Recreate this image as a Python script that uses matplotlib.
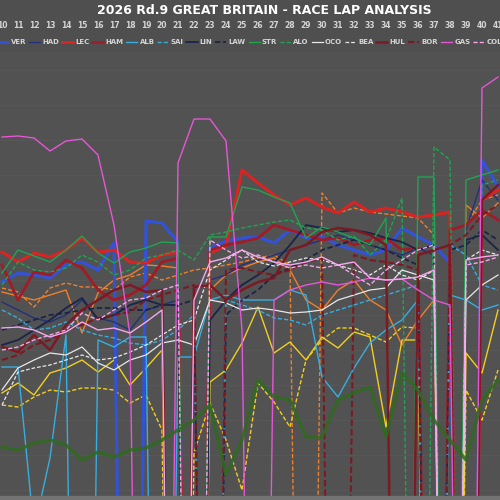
import numpy as np
import matplotlib.pyplot as plt
from matplotlib.lines import Line2D
from matplotlib.patches import Rectangle

# lap times in seconds, laps 10..41; PIT marks in/out laps (off the chart)
PIT = 115.0
laps = list(range(10, 42))

nor = [91.80, 91.88, 91.96, 91.86, 91.76, 92.62, 91.82, 91.56, 91.46, 91.26, 91.28, 91.32, PIT, 91.76, 91.46, 91.32,
       91.20, 91.12, 91.36, 91.96, 92.16, 91.76, 91.56, 91.96, 92.16, 92.86, 92.36, 91.96, PIT, 90.06, 90.32, 90.02]
pia = [91.72, 91.80, 92.10, 91.72, 91.62, 91.70, 91.70, 91.76, 91.50, 91.42, 91.56, 91.46, 91.36, 91.32, 91.26, 91.20,
       91.12, 91.06, 91.26, PIT, 89.82, 90.22, 90.12, 90.20, 90.24, 90.28, 90.32, 90.66, PIT, 90.46, 89.96, 89.86]
rus = [93.82, 93.62, 93.86, 93.42, 93.32, 93.16, 93.40, 93.16, 93.66, 93.32, 92.96, PIT, PIT, 93.60, 93.36, 92.82,
       92.10, 93.02, 92.80, 93.16, 92.70, 92.92, 92.60, 92.70, 94.50, 92.76, 92.76, PIT, PIT, 93.02, 93.42, 92.16]
ant = [94.06, 94.10, 93.90, 93.76, 93.80, 93.72, 93.72, 93.76, 94.02, 93.86, 94.56, PIT, 95.02, 94.02, 94.76, 95.76,
       93.62, 94.00, 94.50, 93.16, 92.76, 92.52, 92.52, 92.66, 92.80, 92.50, 92.52, PIT, PIT, 93.76, 94.36, 93.36]
ver = [91.60, 91.42, 91.46, 91.52, 91.26, 91.20, 91.36, 90.82, PIT, 90.38, 90.42, 90.80, PIT, 90.92, 90.78, 90.72,
       90.70, 90.82, 90.56, 90.72, 90.70, 90.86, 90.96, 91.06, 90.96, 90.52, 90.70, 90.86, 91.22, PIT, 89.16, 89.70]
had = [92.00, 92.16, 92.32, 92.40, 92.26, 91.96, 92.32, 92.40, 92.56, 92.16, 92.06, 91.96, PIT, 91.56, 91.46, 91.26,
       91.16, 91.06, 90.96, 90.86, 90.76, 90.66, 90.76, 90.86, 90.96, 91.06, 90.92, 91.06, PIT, 90.56, 89.56, 89.96]
lec = [91.00, 91.20, 91.02, 91.10, 90.96, 90.72, 91.00, 90.96, 91.20, 91.22, 91.06, 91.00, PIT, 91.02, 90.88, 89.36,
       89.62, 89.86, 90.06, 89.92, 90.10, 90.22, 90.00, 90.20, 90.12, 90.20, 90.30, 90.26, 90.20, PIT, 89.96, 89.76]
ham = [91.26, 91.96, 91.40, 91.46, 91.16, 91.32, 91.76, 91.96, 91.86, 91.66, 91.20, 91.12, PIT, 90.96, 90.86, 90.80,
       90.72, 90.46, 90.56, 90.66, 90.76, 90.72, 90.86, 90.76, 90.72, 90.96, 90.92, PIT, 90.56, 90.46, 90.16, 90.36]
alb = [93.30, 93.30, 96.56, 95.12, 92.66, PIT, 92.76, 92.90, 92.70, 92.70, PIT, 93.10, 93.10, 91.96, 91.86, 91.96,
       91.96, 91.96, 91.76, 91.86, 93.50, 93.90, 93.32, 92.82, 92.56, 92.36, 91.96, PIT, 91.86, 91.96, 92.16, 92.06]
sai = [92.16, 92.32, 92.56, 92.52, 92.40, 92.56, 92.66, 92.72, 92.82, 92.86, 92.76, 92.56, 92.26, PIT, 91.96, 92.06,
       92.16, 92.32, 92.36, 92.46, 92.26, 92.16, 92.06, 91.96, 91.86, 91.76, 91.66, PIT, 90.86, 91.06, 91.66, 91.76]
lin = [92.86, 92.76, 92.56, 92.36, 92.12, 91.92, 92.36, 92.26, 92.06, 91.96, 92.06, 92.06, PIT, 92.36, 91.96, 91.66,
       91.46, 91.22, 90.86, 90.46, 90.52, 90.60, 90.56, 90.62, 90.72, 90.80, 90.96, 90.86, PIT, 90.76, 90.66, 90.96]
law = [92.56, 92.46, 92.36, 92.26, 92.22, 92.16, 92.12, 92.12, 92.16, 92.16, 92.06, 92.06, 91.96, PIT, 92.26, 91.96,
       91.76, 91.46, 91.32, 91.16, 90.96, 90.86, 90.76, 90.86, 90.96, 91.12, 91.26, PIT, 90.96, 90.86, 90.56, 90.76]
stro = [91.42, 90.96, 91.08, 91.20, 90.96, 90.68, 91.02, 91.22, 91.00, 90.92, 90.80, 90.82, PIT, 90.70, 90.70, 89.70,
        89.76, 89.90, 90.02, 90.72, 90.50, 90.60, 90.72, 90.86, 90.32, PIT, 89.50, 89.50, PIT, 89.56, 89.46, 89.36]
alo = [91.66, 91.20, 91.36, 91.40, 91.32, 91.06, 91.20, 91.46, 91.36, 91.12, 91.06, 90.96, 91.16, 90.66, 90.60, 90.52,
       90.46, 90.40, 90.36, 90.52, 90.56, 90.76, 90.68, 91.06, 90.76, 89.92, PIT, 88.90, 89.16, PIT, 89.66, 89.56]
oco = [93.76, 93.32, 93.16, 93.02, 93.06, 92.90, 93.22, 93.36, 93.16, 93.06, 92.82, 92.76, 92.86, 91.96, 92.02, 92.16,
       92.12, 92.16, 92.22, 92.20, 92.16, 91.96, 91.86, 91.76, 91.72, 91.36, 91.46, 91.56, PIT, 91.96, 91.66, 91.46]
bea = [94.06, 93.40, 93.32, 93.26, 93.16, 93.06, 93.16, 93.12, 93.00, 92.86, 92.66, 92.46, 92.36, 91.36, 91.16, 90.96,
       91.20, 91.28, 91.20, 91.12, 91.16, 91.26, 91.36, 91.46, 91.26, 91.46, 91.56, 91.36, PIT, 91.16, 90.96, 91.06]
hul = [92.90, 93.00, 92.66, 92.96, 92.46, 92.16, 91.96, 91.76, 91.66, 91.80, 91.76, PIT, 91.70, 91.66, 91.96, 91.76,
       91.60, 91.52, 90.96, 90.86, 90.60, 90.52, 90.56, 90.66, 90.86, PIT, 91.06, 90.96, 90.86, PIT, 89.96, 89.66]
bor = [93.16, 93.06, 92.86, 92.76, 92.56, 92.46, 92.32, 92.26, 92.20, 91.96, 91.86, 91.76, 91.66, PIT, 91.36, 91.32,
       91.40, 91.46, 91.36, 91.20, 91.12, PIT, 91.06, 91.16, 91.20, 91.26, 91.36, PIT, 90.86, 90.66, 90.26, 90.06]
gas = [88.70, 88.68, 88.72, 88.98, 88.78, 88.74, 89.06, 90.46, 92.66, PIT, PIT, 89.22, 88.34, 88.34, 88.78, 92.56,
       PIT, 91.96, 91.76, 91.66, 91.60, 91.66, 91.60, 91.52, 91.56, 91.54, 91.76, 91.96, 92.06, PIT, 87.72, 87.50]
col = [92.96, 92.90, 92.76, 92.66, 92.56, 92.22, 92.36, 92.16, 91.96, 91.92, 91.76, 91.66, PIT, 90.76, 90.96, 91.12,
       91.06, 91.20, 91.32, 91.26, 91.32, 91.26, 91.46, 91.66, 91.36, 91.16, 90.96, 90.86, PIT, 91.26, 91.20, 91.10]
per = [92.52, 92.50, 92.56, 92.70, 92.60, 92.40, 92.56, 92.52, 92.62, 92.40, 92.16, PIT, 91.96, 91.20, 91.12, 90.96,
       91.10, 91.20, 91.26, 91.20, 91.10, 91.26, 91.20, 91.52, 91.56, 91.54, 91.50, 91.36, PIT, 91.16, 91.10, 91.06]
bot = [94.90, 94.96, 94.82, 94.76, 94.86, 95.16, 95.00, 95.10, 94.96, 94.92, 94.76, 94.56, 94.36, 94.06, 95.46, 94.76,
       93.56, 93.90, 93.96, 94.70, 94.70, 93.96, 93.82, 93.70, 94.70, 93.42, 93.76, 94.36, 94.76, 95.16, 93.96, 93.56]

drivers = ['NOR', 'PIA', 'RUS', 'ANT', 'VER', 'HAD', 'LEC', 'HAM', 'ALB', 'SAI', 'LIN',
           'LAW', 'STR', 'ALO', 'OCO', 'BEA', 'HUL', 'BOR', 'GAS', 'COL', 'PER', 'BOT']
series = [nor, pia, rus, ant, ver, had, lec, ham, alb, sai, lin,
          law, stro, alo, oco, bea, hul, bor, gas, col, per, bot]
colors = ['#f07f2a', '#f07f2a', '#f2cf1f', '#f2cf1f', '#3352dc', '#23317c', '#dc2222', '#a11c26', '#36aee0', '#36aee0',
          '#1b2547', '#1b2547', '#1fa552', '#1fa552', '#e8e8e8', '#e8e8e8', '#7b1a22', '#7b1a22', '#e656d6', '#f3a6ea',
          '#f6a8ef', '#2f6b1f']
dashed = [False, True, False, True, False, False, False, False, False, True, False,
          True, False, True, False, True, False, True, False, True, False, False]
widths = [1.0, 1.0, 1.0, 1.0, 2.2, 1.0, 2.2, 2.0, 1.0, 1.0, 1.3,
          1.3, 1.0, 1.0, 0.9, 0.9, 1.8, 1.5, 1.0, 1.0, 1.0, 2.4]

fig = plt.figure(figsize=(5, 5), dpi=100, facecolor='#4f4f4f')
ax = fig.add_axes([0, 0.008, 1, 0.888])
ax.set_facecolor('#525252')

handles = []
for name, vals, c, d, w in zip(drivers, series, colors, dashed, widths):
    ls = (0, (3, 1.5)) if d else '-'
    alpha = 0.85 if name == 'BOT' else 1.0
    ax.plot(laps, vals, color=c, ls=ls, lw=w, alpha=alpha)
    handles.append(Line2D([], [], color=c, ls=ls, lw=w))

ax.set_xlim(9.875, 41.125)
ax.set_ylim(95.88, 87.0)
ax.xaxis.tick_top()
ax.set_xticks(laps)
ax.tick_params(axis='x', length=0, pad=15.5, labelsize=5.5, labelcolor='#d4d4d4')
for lbl in ax.get_xticklabels():
    lbl.set_fontweight('bold')
ax.set_yticks(np.arange(87.36, 95.8, 0.7))
ax.tick_params(axis='y', left=False, labelleft=False)
ax.grid(axis='y', color='#5a5a5a', lw=0.5)
for s in ax.spines.values():
    s.set_visible(False)

fig.patches.append(Rectangle((0, 0), 1, 0.008, transform=fig.transFigure, color='#737373'))

fig.legend(handles, drivers, ncol=22, loc='center', bbox_to_anchor=(0.436, 0.916), frameon=False,
           prop={'weight': 'bold', 'size': 5}, labelcolor='#d4d4d4', handlelength=1.6,
           handletextpad=0.3, columnspacing=0.42)

fig.text(0.528, 0.978, '2026 Rd.9 GREAT BRITAIN - RACE LAP ANALYSIS', ha='center', va='center',
         fontsize=9, fontweight='bold', color='white')

fig.savefig('out.png', dpi=100, facecolor=fig.get_facecolor())
